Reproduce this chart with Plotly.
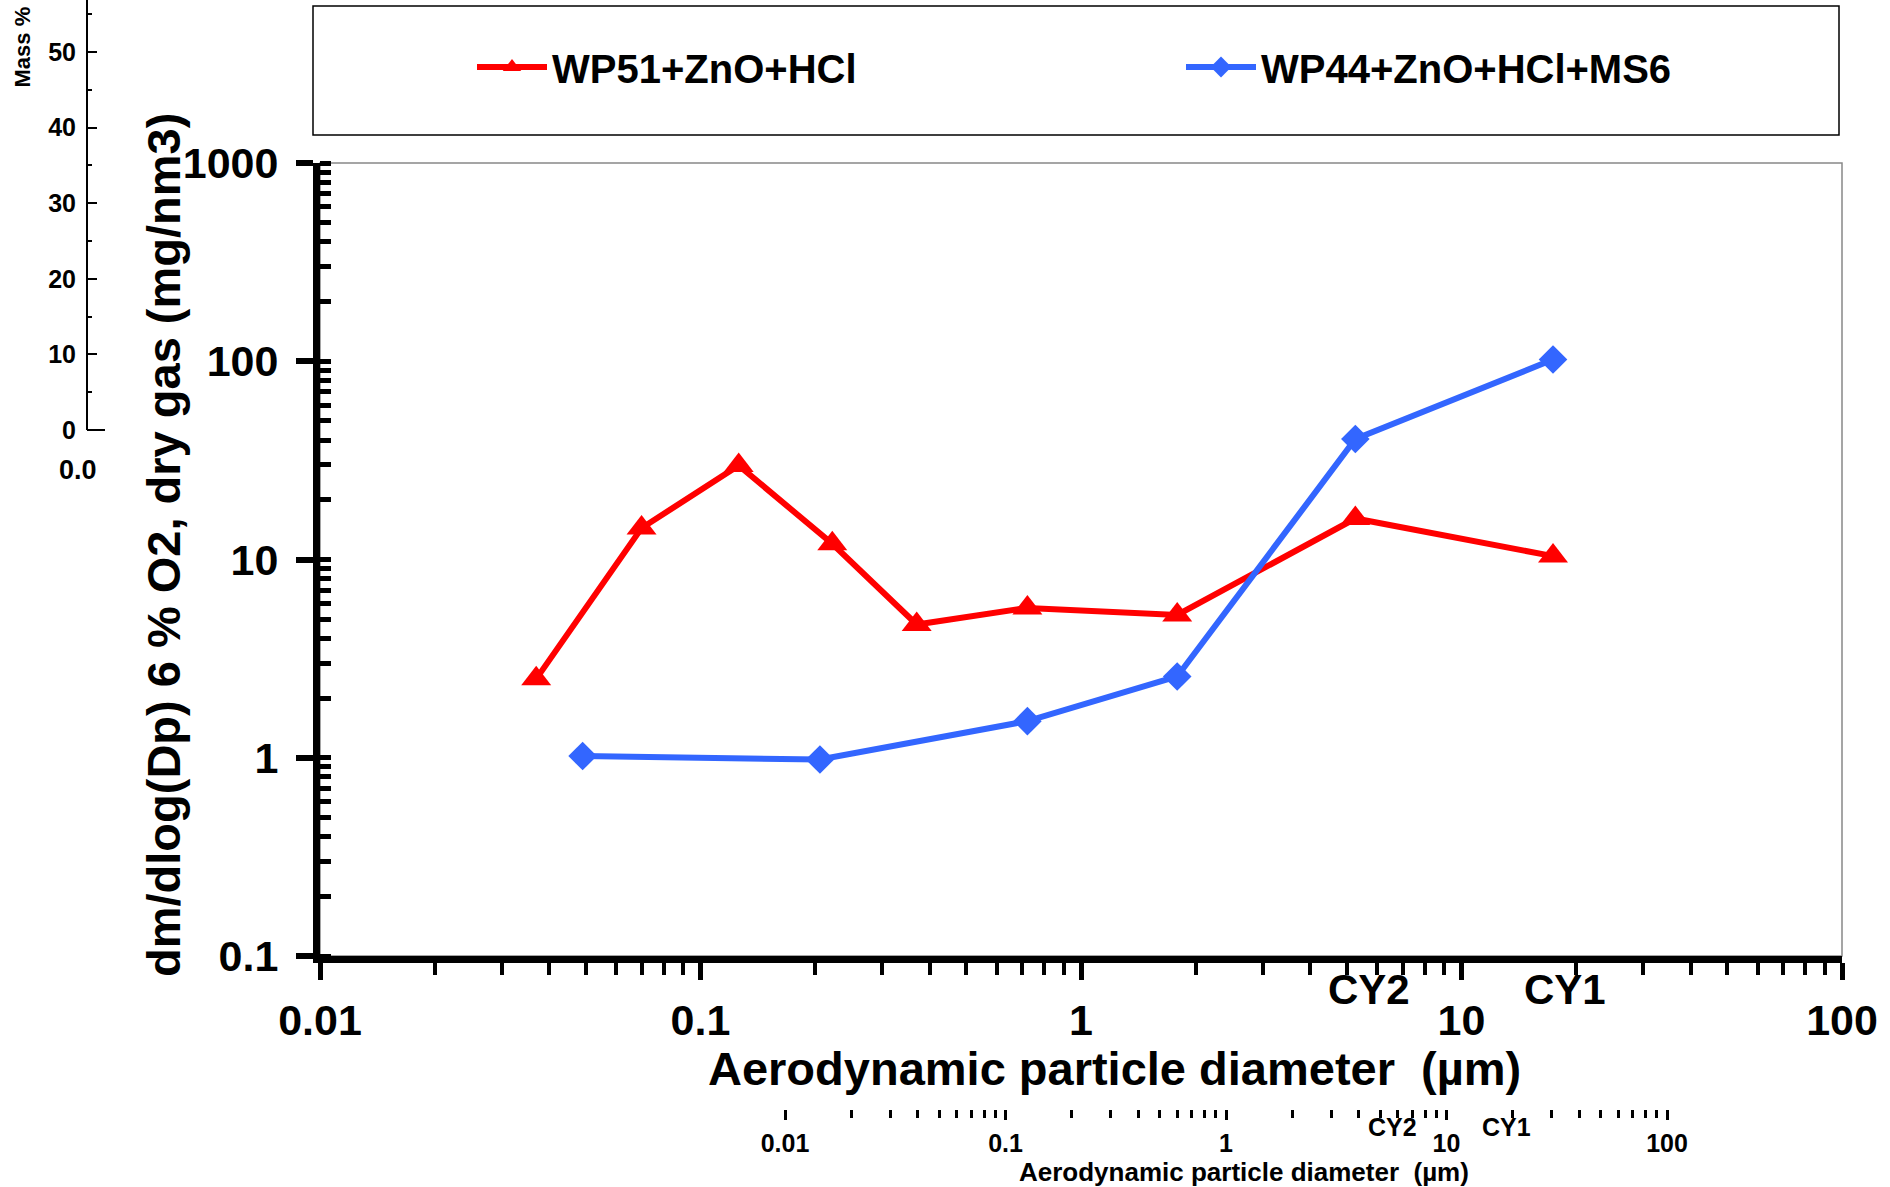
import numpy as np
import plotly.graph_objects as go

# ---- data ----
red_name = "WP51+ZnO+HCl"
red_x = [0.037, 0.070, 0.126, 0.222, 0.370, 0.723, 1.79, 5.26, 17.4]
red_y = [2.5, 14.4, 29.8, 12.0, 4.7, 5.7, 5.25, 16.1, 10.4]

blue_name = "WP44+ZnO+HCl+MS6"
blue_x = [0.049, 0.206, 0.723, 1.79, 5.26, 17.4]
blue_y = [1.02, 0.98, 1.53, 2.57, 40.5, 102]

x_tickvals = [0.01, 0.1, 1, 10, 100]
x_ticktext = ["0.01", "0.1", "1", "10", "100"]
y_tickvals = [0.1, 1, 10, 100, 1000]
y_ticktext = ["0.1", "1", "10", "100", "1000"]
cy_labels = ["CY2", "CY1"]
cy_pos = [5.7, 18.7]

ghost_y_tickvals = [0, 10, 20, 30, 40, 50]

W, H = 1890, 1187
FONT = "Liberation Sans, Arial, sans-serif"


def px(xp):
    return xp / W


def py(yp):
    return 1 - yp / H


fig = go.Figure()
fig.add_trace(go.Scatter(x=red_x, y=red_y, name=red_name, mode="lines+markers",
                         line=dict(color="#FF0000", width=6),
                         marker=dict(symbol="triangle-up", size=26, color="#FF0000")))
fig.add_trace(go.Scatter(x=blue_x, y=blue_y, name=blue_name, mode="lines+markers",
                         line=dict(color="#3366FF", width=6),
                         marker=dict(symbol="diamond", size=22, color="#3366FF")))
# ghost axes carrier (empty)
fig.add_trace(go.Scatter(x=[], y=[], xaxis="x3", yaxis="y3", showlegend=False, hoverinfo="skip"))

tickfont = dict(family=FONT, size=43, color="black", weight="bold")
gfont = dict(family=FONT, size=25, color="black", weight="bold")

fig.update_layout(
    width=W, height=H,
    margin=dict(l=0, r=0, t=0, b=0, autoexpand=False),
    paper_bgcolor="white", plot_bgcolor="rgba(0,0,0,0)",
    showlegend=True,
    legend=dict(orientation="h", x=px(472), y=py(67), xanchor="left", yanchor="middle",
                font=dict(family=FONT, size=40, color="black", weight="bold"),
                entrywidth=624, entrywidthmode="pixels", itemwidth=70,
                bgcolor="rgba(0,0,0,0)", borderwidth=0),
    xaxis=dict(type="log", range=[-2, 2], domain=[px(320), px(1842)], anchor="y",
               tickvals=x_tickvals, ticktext=x_ticktext,
               tickfont=tickfont, ticks="outside", ticklen=17, tickwidth=5, tickcolor="black",
               showline=True, linewidth=7, linecolor="black", showgrid=False, zeroline=False,
               ticklabelstandoff=3,
               minor=dict(ticks="outside", ticklen=12, tickwidth=4, tickcolor="black", dtick="D1", showgrid=False)),
    yaxis=dict(type="log", range=[-1, 3], domain=[py(956), py(163)], anchor="x",
               tickvals=y_tickvals, ticktext=y_ticktext,
               tickfont=tickfont, ticks="outside", ticklen=17, tickwidth=6, tickcolor="black",
               showline=True, linewidth=7, linecolor="black", showgrid=False, zeroline=False,
               ticklabelstandoff=9,
               minor=dict(ticks="inside", ticklen=11, tickwidth=5, tickcolor="black", dtick="D1", showgrid=False)),
    # ghost axes from an underlying chart
    xaxis3=dict(type="log", domain=[px(785), px(1667)], range=[-2, 2], anchor="free",
                position=py(1109), tickvals=x_tickvals, ticktext=x_ticktext,
                tickfont=gfont,
                ticks="outside", ticklen=10, tickwidth=3, tickcolor="black", showline=False,
                showgrid=False, zeroline=False, ticklabelstandoff=2,
                minor=dict(ticks="outside", ticklen=8, tickwidth=3, tickcolor="black", dtick="D1", showgrid=False)),
    yaxis3=dict(range=[0, 430 / 7.56], domain=[py(430), 1], anchor="free", position=px(87),
                tickvals=ghost_y_tickvals, tickfont=dict(family=FONT, size=25, color="black", weight="bold"),
                ticks="inside", ticklen=9, tickwidth=2, tickcolor="black", showline=True, linewidth=2,
                linecolor="black", showgrid=False, zeroline=False, ticklabelstandoff=5,
                minor=dict(ticks="inside", ticklen=4, tickwidth=2, tickcolor="black", dtick=5, showgrid=False)),
)

shapes = [
    # thin frame of plot area (top/right)
    dict(type="rect", xref="x domain", yref="y domain", x0=0, x1=1, y0=0, y1=1,
         line=dict(color="#888888", width=1.5), layer="below"),
    # legend box
    dict(type="rect", xref="paper", yref="paper", x0=px(313), x1=px(1839), y0=py(135), y1=py(6),
         line=dict(color="black", width=1.5), fillcolor="rgba(0,0,0,0)"),
    # ghost base line stub
    dict(type="line", xref="paper", yref="paper", x0=px(87), x1=px(105), y0=py(430), y1=py(430),
         line=dict(color="black", width=2)),
]
fig.update_layout(shapes=shapes)

ann = []
for lab, pos in zip(cy_labels, cy_pos):
    ann.append(dict(x=np.log10(pos), xref="x", y=py(990), yref="paper", text=lab, showarrow=False,
                    font=dict(family=FONT, size=42, color="black", weight="bold"),
                    xanchor="center", yanchor="middle"))
    ann.append(dict(x=np.log10(pos), xref="x3", y=py(1127), yref="paper", text=lab, showarrow=False,
                    font=gfont, xanchor="center", yanchor="middle"))
# main axis titles
ann.append(dict(x=px(1114), xref="paper", y=py(1068), yref="paper",
                text="Aerodynamic particle diameter  (µm)", showarrow=False, xanchor="center",
                font=dict(family=FONT, size=47, color="black", weight="bold"), yanchor="middle"))
ann.append(dict(x=px(163), xref="paper", y=py(545), yref="paper",
                text="dm/dlog(Dp) 6 % O2, dry gas (mg/nm3)", textangle=-90, showarrow=False,
                font=dict(family=FONT, size=47, color="black", weight="bold"),
                xanchor="center", yanchor="middle"))
# ghost texts
ann.append(dict(x=px(1244), xref="paper", y=py(1172), yref="paper", xanchor="center",
                text="Aerodynamic particle diameter  (µm)", showarrow=False,
                font=dict(family=FONT, size=26, color="black", weight="bold"), yanchor="middle"))
ann.append(dict(x=px(22), xref="paper", y=py(90), yref="paper", text="Mass %", textangle=-90,
                showarrow=False, xanchor="center", yanchor="bottom",
                font=dict(family=FONT, size=22, color="black", weight="bold")))
ann.append(dict(x=px(57), xref="paper", y=py(470), yref="paper", text="0.0", showarrow=False,
                xanchor="left", yanchor="middle",
                font=dict(family=FONT, size=27, color="black", weight="bold")))
fig.update_layout(annotations=ann)

fig.write_html("out.html")
